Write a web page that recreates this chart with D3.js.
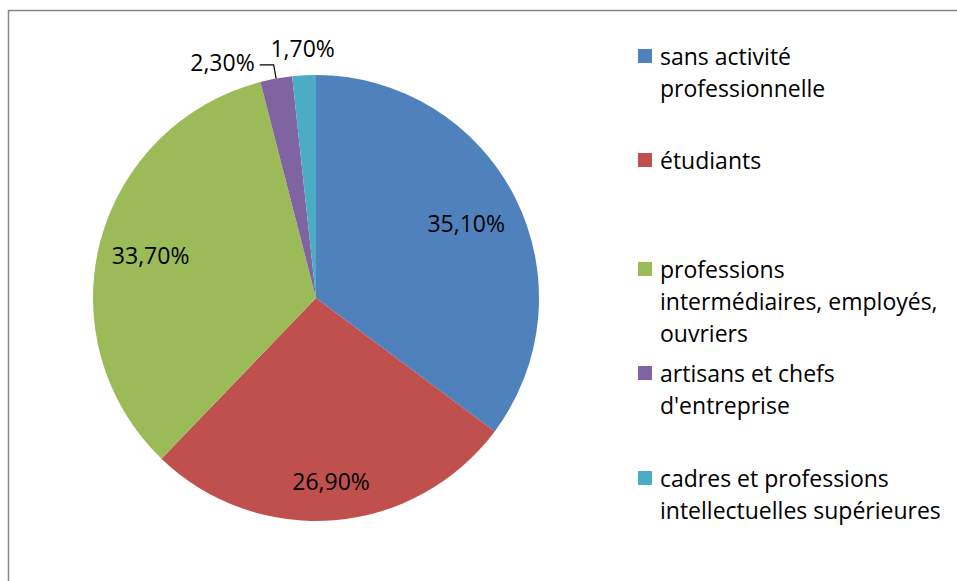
<!DOCTYPE html>
<html>
<head>
<meta charset="utf-8">
<script src="https://cdn.jsdelivr.net/npm/d3@7"></script>
<style>
  body { margin: 0; background: #fff; }
  svg { display: block; font-family: "Open Sans", Lato, sans-serif; }
</style>
</head>
<body>
<svg id="chart" width="957" height="581"></svg>
<script>
const categories = [
    'sans activité professionnelle',
    'étudiants',
    'professions intermédiaires, employés, ouvriers',
    "artisans et chefs d'entreprise",
    'cadres et professions intellectuelles supérieures'
];
const values = [35.1, 26.9, 33.7, 2.3, 1.7];
const labels = ['35,10%', '26,90%', '33,70%', '2,30%', '1,70%'];
const legendLines = [
    ['sans activité', 'professionnelle'],
    ['étudiants'],
    ['professions', 'intermédiaires, employés,', 'ouvriers'],
    ['artisans et chefs', "d'entreprise"],
    ['cadres et professions', 'intellectuelles supérieures']
];
const colors = ['#4F81BD', '#C0504D', '#9BBB59', '#8064A2', '#4BACC6'];

// layout
const cx = 316, cy = 298, radius = 223;
const labelRadius = [168, 184, 171, 237, 250];
const legendTop = [56, 160, 269, 373, 478];
const lineHeight = 32;

const svg = d3.select('#chart');

// outer frame (runs past the window on the right and bottom)
svg.append('rect')
    .attr('x', 8.5).attr('y', 10.5)
    .attr('width', 1000).attr('height', 1000)
    .attr('fill', 'none')
    .attr('stroke', '#868686')
    .attr('stroke-width', 1.5);

const pie = d3.pie().sort(null).value(d => d);
const arcs = pie(values);
const arc = d3.arc().innerRadius(0).outerRadius(radius);

const g = svg.append('g').attr('transform', `translate(${cx},${cy})`);

g.selectAll('path')
    .data(arcs)
    .join('path')
    .attr('d', arc)
    .attr('fill', (d, i) => colors[i]);

function polar(r, a) {
    return [r * Math.sin(a), -r * Math.cos(a)];
}

arcs.forEach((d, i) => {
    const mid = (d.startAngle + d.endAngle) / 2;
    const [x, y] = polar(labelRadius[i], mid);
    if (i === 3) {
        // leader line for the small purple slice
        const edge = polar(radius, mid);
        g.append('polyline')
            .attr('points', [edge, [x, y], [x - 14, y]].map(p => p.join(',')).join(' '))
            .attr('fill', 'none')
            .attr('stroke', '#000')
            .attr('stroke-width', 1.2);
        g.append('text')
            .attr('x', x - 19).attr('y', y - 3)
            .attr('text-anchor', 'end')
            .attr('dominant-baseline', 'central')
            .attr('font-size', 23)
            .text(labels[i]);
    } else {
        g.append('text')
            .attr('x', x).attr('y', y)
            .attr('text-anchor', 'middle')
            .attr('dominant-baseline', 'central')
            .attr('font-size', 23)
            .text(labels[i]);
    }
});

const legend = svg.append('g');
legendLines.forEach((lines, i) => {
    const item = legend.append('g').attr('transform', `translate(638,${legendTop[i]})`);
    item.append('rect')
        .attr('x', 0).attr('y', -7)
        .attr('width', 14).attr('height', 14)
        .attr('fill', colors[i]);
    item.selectAll('text')
        .data(lines)
        .join('text')
        .attr('x', 22)
        .attr('y', (d, j) => j * lineHeight)
        .attr('dominant-baseline', 'central')
        .attr('font-size', 23)
        .attr('fill', '#000')
        .text(d => d);
});
</script>
</body>
</html>
